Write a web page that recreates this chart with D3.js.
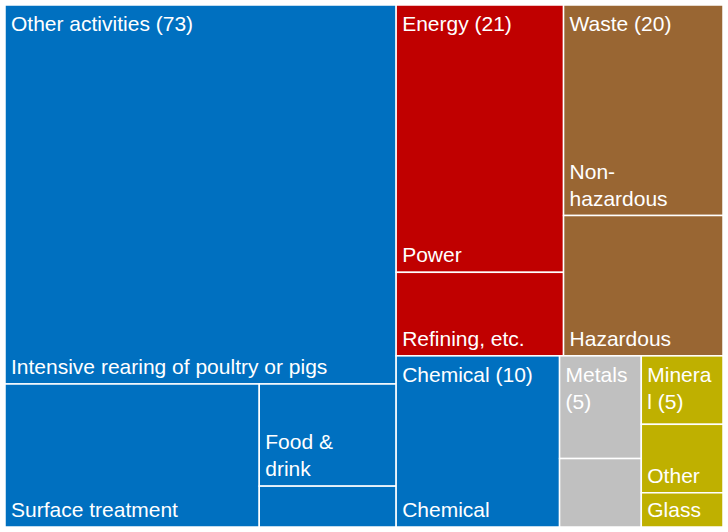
<!DOCTYPE html>
<html><head><meta charset="utf-8">
<script src="https://cdn.jsdelivr.net/npm/d3@7"></script>
<style>body{margin:0;background:#fff}text{font-family:"Liberation Sans",Arial,sans-serif;fill:#fff}</style>
</head><body><svg id="chart"></svg>
<script>
const w = 728, h = 532, m = 5;

const groups = ["Other activities (73)", "Energy (21)", "Waste (20)", "Chemical (10)", "Metals\n(5)", "Minera\nl (5)"];
const groupColors = ["#0070C0", "#C00000", "#996633", "#0070C0", "#C0C0C0", "#BFB000"];
const childLabels = [
  ["Intensive rearing of poultry or pigs", "Surface treatment", "Food &\ndrink", ""],
  ["Power", "Refining, etc."],
  ["Non-\nhazardous", "Hazardous"],
  ["Chemical"],
  ["", ""],
  ["", "Other", "Glass"]
];
const childValues = [
  [53, 13, 5, 2],
  [16, 5],
  [12, 8],
  [10],
  [3, 2],
  [2, 2, 1]
];

const data = {children: groups.map((g, i) => ({
  name: g, color: groupColors[i],
  children: childValues[i].map((v, j) => ({name: childLabels[i][j], value: v}))
}))};

const root = d3.hierarchy(data).sum(d => d.value || 0).sort((a, b) => b.value - a.value);
d3.treemap().tile(d3.treemapSquarify).size([w - 2 * m, h - 2 * m])(root);

const svg = d3.select("#chart").attr("width", w).attr("height", h);
const g = svg.append("g").attr("transform", `translate(${m},${m})`);
const lh = 27, fs = 21;

g.selectAll("rect").data(root.leaves()).join("rect")
  .attr("x", d => d.x0).attr("y", d => d.y0)
  .attr("width", d => d.x1 - d.x0).attr("height", d => d.y1 - d.y0)
  .attr("fill", d => d.parent.data.color)
  .attr("stroke", "#fff").attr("stroke-width", 1.5);

// child labels, bottom aligned
g.selectAll("text.child").data(root.leaves().filter(d => d.data.name)).join("text")
  .attr("class", "child").attr("font-size", fs)
  .each(function(d) {
    const lines = d.data.name.split("\n");
    d3.select(this).selectAll("tspan").data(lines).join("tspan")
      .attr("x", d.x0 + 6)
      .attr("y", (l, i) => d.y1 - 10 - (lines.length - 1 - i) * lh)
      .text(l => l);
  });

// group labels, top aligned
g.selectAll("text.group").data(root.children).join("text")
  .attr("class", "group").attr("font-size", fs)
  .each(function(d) {
    const lines = d.data.name.split("\n");
    d3.select(this).selectAll("tspan").data(lines).join("tspan")
      .attr("x", d.x0 + 6)
      .attr("y", (l, i) => d.y0 + 26 + i * lh)
      .text(l => l);
  });
</script></body></html>
